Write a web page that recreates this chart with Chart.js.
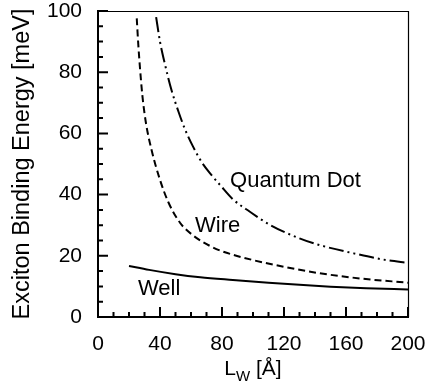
<!DOCTYPE html>
<html lang="en">
<head>
    <meta charset="UTF-8">
    <title>Exciton Binding Energy</title>
    <script src="https://cdn.jsdelivr.net/npm/chart.js"></script>
    <style>
        body {
            margin: 0;
            background: #fff;
        }
    </style>
</head>
<body>
    <canvas id="chart" width="429" height="390"></canvas>

    <script>
        // Values: [L_W in Angstrom, energy in meV]
        const wellPoints = [[20, 16.7], [33, 15.4], [50, 14.0], [66, 13.0], [87, 12.1], [110, 11.2], [130, 10.5], [150, 9.9], [173, 9.4], [200, 9.0]];
        const wirePoints = [[25, 97.6], [26, 89], [27.1, 81.3], [28.6, 72.5], [30.8, 63.8], [34.6, 54.5], [40, 44.8], [45.4, 37.5], [52.9, 30.8], [61.5, 26.6], [72.3, 23.2], [80, 21.5], [100, 18.6], [122, 16.2], [143, 14.3], [169, 12.6], [200, 11.2]];
        const dotPoints = [[37.5, 98], [40, 90], [43, 83], [47.5, 74], [52, 67], [56, 61.5], [61.5, 55.5], [67, 50.5], [73, 46.5], [79, 43], [87, 38.5], [98, 34.4], [111, 30.1], [130, 25.7], [143, 23.5], [165, 20.8], [186, 18.6], [200, 17.7]];

        const xTicks = [0, 40, 80, 120, 160, 200];
        const yTicks = [0, 20, 40, 60, 80, 100];

        // curve labels, placed in data units (left end of the baseline)
        const curveLabels = [
            { text: 'Quantum Dot', x: 85.2, y: 42.6 },
            { text: 'Wire', x: 62.6, y: 27.9 },
            { text: 'Well', x: 25.8, y: 7.2 }
        ];

        const FONT = '"Liberation Sans", Arial, sans-serif';

        const toXY = pts => pts.map(p => ({ x: p[0], y: p[1] }));

        // inward ticks, frame, labels and axis titles
        const decorations = {
            id: 'decorations',
            afterDatasetsDraw(chart) {
                const ctx = chart.ctx;
                const a = chart.chartArea;
                const xs = chart.scales.x;
                const ys = chart.scales.y;
                ctx.save();
                ctx.strokeStyle = '#000';

                // thin top/right frame
                ctx.lineWidth = 1.2;
                ctx.beginPath();
                ctx.moveTo(a.left, a.top + 0.5);
                ctx.lineTo(a.right + 0.5, a.top + 0.5);
                ctx.lineTo(a.right + 0.5, a.bottom);
                ctx.stroke();

                // ticks pointing into the plot
                ctx.lineWidth = 2;
                ctx.beginPath();
                for (let v = 0; v <= 200; v += 10) {
                    const px = xs.getPixelForValue(v);
                    const len = v % 40 === 0 ? 10 : 5;
                    ctx.moveTo(px, a.bottom);
                    ctx.lineTo(px, a.bottom - len);
                }
                for (let v = 0; v <= 100; v += 5) {
                    const py = ys.getPixelForValue(v);
                    const len = v % 20 === 0 ? 10 : 5;
                    ctx.moveTo(a.left, py);
                    ctx.lineTo(a.left + len, py);
                }
                ctx.stroke();

                // curve labels
                ctx.fillStyle = '#000';
                ctx.font = '22px ' + FONT;
                ctx.textBaseline = 'alphabetic';
                ctx.textAlign = 'left';
                curveLabels.forEach(l => {
                    ctx.fillText(l.text, xs.getPixelForValue(l.x), ys.getPixelForValue(l.y));
                });

                // y axis title
                ctx.save();
                ctx.translate(29, (a.top + a.bottom) / 2);
                ctx.rotate(-Math.PI / 2);
                ctx.textAlign = 'center';
                ctx.font = '23.5px ' + FONT;
                ctx.fillText('Exciton Binding Energy [meV]', 0, 0);
                ctx.restore();

                // x axis title with subscript W
                const big = '21px ' + FONT;
                const small = '15px ' + FONT;
                ctx.font = big;
                const wL = ctx.measureText('L').width;
                const wRest = ctx.measureText(' [Å]').width;
                ctx.font = small;
                const wW = ctx.measureText('W').width;
                const x0 = (a.left + a.right) / 2 - (wL + wW + wRest) / 2;
                const base = 375;
                ctx.font = big;
                ctx.fillText('L', x0, base);
                ctx.font = small;
                ctx.fillText('W', x0 + wL, base + 6);
                ctx.font = big;
                ctx.fillText(' [Å]', x0 + wL + wW, base);
                ctx.restore();
            }
        };

        const lineStyle = (label, pts, dash) => ({
            label: label,
            data: toXY(pts),
            borderColor: '#000',
            borderWidth: 2,
            borderDash: dash,
            pointRadius: 0,
            fill: false,
            cubicInterpolationMode: 'monotone'
        });

        new Chart(document.getElementById('chart').getContext('2d'), {
            type: 'line',
            data: {
                datasets: [
                    lineStyle('Well', wellPoints, []),
                    lineStyle('Wire', wirePoints, [7, 4]),
                    lineStyle('Quantum Dot', dotPoints, [15, 4, 2, 4, 2, 4])
                ]
            },
            options: {
                responsive: false,
                animation: false,
                layout: { padding: { top: 11, right: 21, left: 0, bottom: 0 } },
                plugins: {
                    legend: { display: false },
                    tooltip: { enabled: false }
                },
                scales: {
                    x: {
                        type: 'linear',
                        min: 0,
                        max: 200,
                        afterBuildTicks: s => { s.ticks = xTicks.map(v => ({ value: v })); },
                        afterFit: s => {
                            s.height = 73;
                            s.paddingLeft = 0;
                            s.paddingRight = 0;
                        },
                        grid: { display: false, drawTicks: false },
                        border: { display: true, color: '#000', width: 2 },
                        ticks: {
                            color: '#000',
                            padding: 15,
                            maxRotation: 0,
                            font: { family: FONT, size: 21 }
                        }
                    },
                    y: {
                        min: 0,
                        max: 100,
                        afterBuildTicks: s => { s.ticks = yTicks.map(v => ({ value: v })); },
                        afterFit: s => {
                            s.width = 98;
                            s.paddingTop = 0;
                            s.paddingBottom = 0;
                        },
                        grid: { display: false, drawTicks: false },
                        border: { display: true, color: '#000', width: 2 },
                        ticks: {
                            color: '#000',
                            padding: 16,
                            font: { family: FONT, size: 21 }
                        }
                    }
                }
            },
            plugins: [decorations]
        });
    </script>
</body>
</html>
